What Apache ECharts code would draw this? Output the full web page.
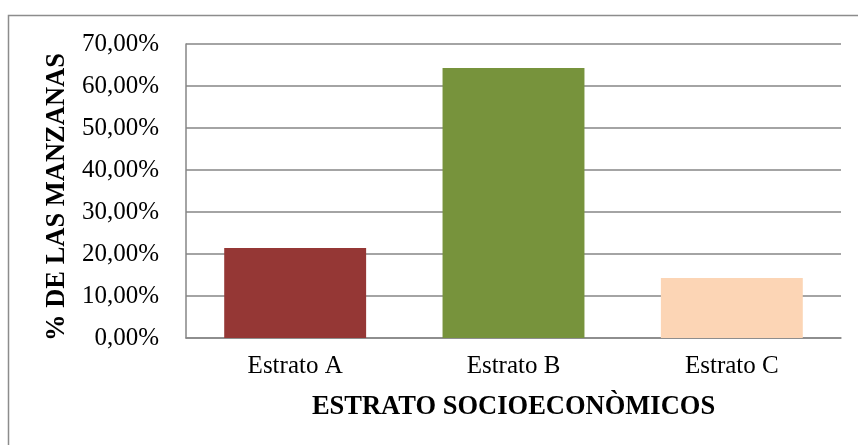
<!DOCTYPE html>
<html>
<head>
<meta charset="utf-8">
<script src="https://cdn.jsdelivr.net/npm/echarts@6/dist/echarts.min.js"></script>
<style>
html,body{margin:0;padding:0;background:#fff;}
#chart{width:858px;height:445px;}
</style>
</head>
<body>
<div id="chart"></div>
<script>
var categories = ['Estrato A', 'Estrato B', 'Estrato C'];
var values = [21.43, 64.29, 14.29];
var barColors = ['#953735', '#77933C', '#FCD5B5'];
var xTitle = 'ESTRATO SOCIOECONÒMICOS';
var yTitle = '% DE LAS MANZANAS';

var chart = echarts.init(document.getElementById('chart'));
var font = "'Liberation Serif', 'Times New Roman', serif";
chart.setOption({
  animation: false,
  backgroundColor: '#fff',
  graphic: [{
    type: 'rect',
    shape: {x: 8.5, y: 15.5, width: 900, height: 500},
    style: {fill: 'none', stroke: '#8c8c8c', lineWidth: 1.5},
    z: -1
  }],
  grid: {left: 186, right: 17, top: 44, bottom: 107},
  xAxis: {
    type: 'category',
    data: categories,
    name: xTitle,
    nameLocation: 'middle',
    nameGap: 56,
    nameTextStyle: {fontFamily: font, fontSize: 26.5, fontWeight: 'bold', color: '#000'},
    axisLine: {lineStyle: {color: '#868686', width: 1.5}},
    axisTick: {show: false},
    axisLabel: {fontFamily: font, fontSize: 25, color: '#000', margin: 16}
  },
  yAxis: {
    type: 'value',
    min: 0, max: 70, interval: 10,
    name: yTitle,
    nameLocation: 'middle',
    nameGap: 110,
    nameRotate: 90,
    nameTextStyle: {fontFamily: font, fontSize: 26.5, fontWeight: 'bold', color: '#000', padding: [0, 12, 0, 0]},
    axisLine: {show: true, lineStyle: {color: '#868686', width: 1.5}},
    axisTick: {show: false},
    splitLine: {lineStyle: {color: '#868686', width: 1.5}},
    axisLabel: {
      fontFamily: font, fontSize: 25, color: '#000', margin: 27,
      formatter: function (v) { return v.toFixed(2).replace('.', ',') + '%'; }
    }
  },
  series: [{
    type: 'bar',
    barWidth: '65%',
    data: values.map(function (v, i) { return {value: v, itemStyle: {color: barColors[i]}}; })
  }]
});
</script>
</body>
</html>
